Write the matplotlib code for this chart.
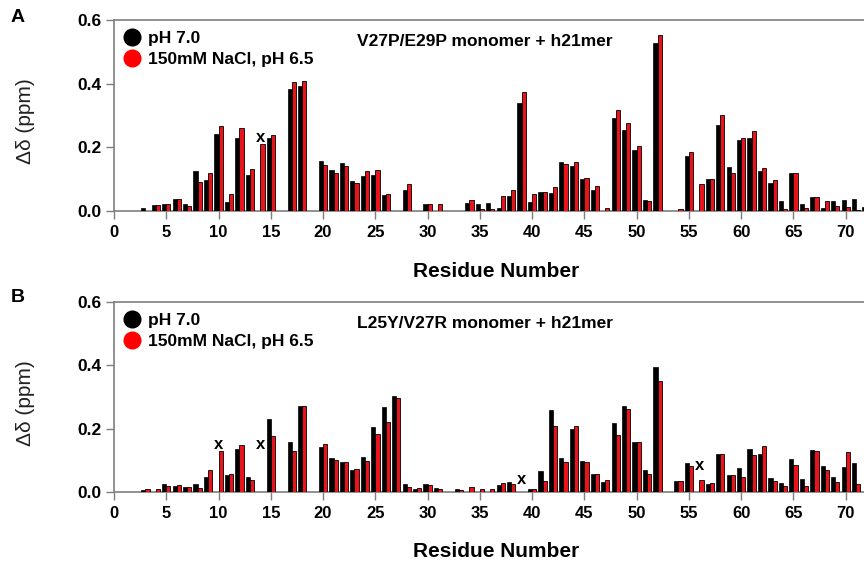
import numpy as np
import matplotlib
matplotlib.use("Agg")
import matplotlib.pyplot as plt
from matplotlib.lines import Line2D

nan = np.nan
residues = list(range(3, 73))

# Panel A: V27P/E29P monomer + h21mer
ph7_A = [0.009, 0.020, 0.023, 0.038, 0.022, 0.125, 0.096, 0.242, 0.028, 0.230,
         0.113, nan, 0.228, nan, 0.383, 0.392, nan, 0.157, 0.129, 0.152,
         0.094, 0.111, 0.113, 0.049, nan, 0.067, nan, 0.023, nan, nan,
         nan, 0.025, 0.022, 0.025, 0.008, 0.047, 0.338, 0.028, 0.060, 0.056,
         0.155, 0.140, 0.102, 0.067, nan, 0.293, 0.254, 0.191, 0.036, 0.527,
         nan, nan, 0.173, nan, 0.101, 0.271, 0.137, 0.223, 0.228, 0.127,
         0.089, 0.031, 0.119, 0.021, 0.044, 0.009, 0.030, 0.033, 0.039, 0.012]
nacl_A = [nan, 0.020, 0.023, 0.037, 0.016, 0.091, 0.118, 0.268, 0.053, 0.262,
          0.131, 0.209, 0.238, nan, 0.406, 0.409, nan, 0.145, 0.119, 0.142,
          0.089, 0.127, 0.130, 0.053, nan, 0.085, nan, 0.023, 0.021, nan,
          nan, 0.035, 0.005, 0.005, 0.047, 0.067, 0.375, 0.053, 0.060, 0.076,
          0.148, 0.155, 0.103, 0.080, 0.008, 0.316, 0.277, 0.203, 0.030, 0.552,
          nan, 0.006, 0.186, 0.086, 0.101, 0.303, 0.120, 0.230, 0.252, 0.134,
          0.096, 0.007, 0.119, 0.008, 0.044, 0.031, 0.016, 0.014, 0.003, nan]

# Panel B: L25Y/V27R monomer + h21mer
ph7_B = [0.007, nan, 0.024, 0.018, 0.016, 0.024, 0.048, nan, 0.054, 0.137,
         0.046, nan, 0.232, nan, 0.158, 0.272, nan, 0.143, 0.108, 0.096,
         0.069, 0.109, 0.206, 0.269, 0.302, 0.025, 0.009, 0.025, 0.013, nan,
         0.008, nan, nan, nan, 0.023, 0.033, nan, 0.008, 0.065, 0.258,
         0.108, 0.200, 0.098, 0.057, 0.032, 0.219, 0.272, 0.157, 0.068, 0.395,
         nan, 0.035, 0.091, nan, 0.025, 0.121, 0.054, 0.075, 0.137, 0.121,
         0.045, 0.027, 0.103, 0.042, 0.133, 0.083, 0.046, 0.079, 0.091, nan]
nacl_B = [0.009, 0.011, 0.018, 0.021, 0.016, 0.013, 0.070, 0.128, 0.057, 0.148,
          0.039, nan, 0.178, nan, 0.129, 0.272, nan, 0.152, 0.102, 0.096,
          0.073, 0.099, 0.184, 0.222, 0.298, 0.017, 0.012, 0.021, 0.008, nan,
          0.007, 0.015, 0.011, 0.008, 0.028, 0.026, nan, 0.008, 0.035, 0.207,
          0.094, 0.208, 0.094, 0.057, 0.038, 0.180, 0.263, 0.157, 0.058, 0.351,
          nan, 0.035, 0.081, 0.039, 0.029, 0.119, 0.054, 0.048, 0.117, 0.144,
          0.035, 0.018, 0.085, 0.019, 0.129, 0.068, 0.031, 0.127, 0.025, nan]

# residues marked "x" (unassigned) and label heights
x_marks_A = [14]
x_heights_A = [0.231]
x_marks_B = [10, 14, 39, 56]
x_heights_B = [0.151, 0.151, 0.039, 0.083]

titles = ["V27P/E29P monomer + h21mer", "L25Y/V27R monomer + h21mer"]
panel_letters = ["A", "B"]
legend_labels = ["pH 7.0", "150mM NaCl, pH 6.5"]
yticks = [0.0, 0.2, 0.4, 0.6]
xticks = list(range(0, 71, 5))

plt.rcParams['font.family'] = ['Liberation Sans', 'DejaVu Sans']

fig = plt.figure(figsize=(8.64, 5.62), dpi=100)
W, H = 864, 562
gray = '#7f7f7f'

def make_axes(top_px, bottom_px):
    left_px, right_px = 114, 864
    return fig.add_axes([left_px / W, 1 - bottom_px / H,
                         (right_px - left_px) / W, (bottom_px - top_px) / H])

axA = make_axes(20, 211)
axB = make_axes(302, 492)

panels = [(axA, ph7_A, nacl_A, x_marks_A, x_heights_A),
          (axB, ph7_B, nacl_B, x_marks_B, x_heights_B)]

bw = 0.4
for i, (ax, blk, red, xm, xh) in enumerate(panels):
    r = np.array(residues, dtype=float)
    b = np.array(blk, dtype=float)
    d = np.array(red, dtype=float)
    mb = ~np.isnan(b)
    md = ~np.isnan(d)
    ax.bar(r[mb] - bw, b[mb], width=bw, align='edge', color='black',
           edgecolor='black', linewidth=0.5, zorder=3)
    ax.bar(r[md], d[md], width=bw, align='edge', color='#e8141b',
           edgecolor='black', linewidth=0.6, zorder=3)
    for xr, yv in zip(xm, xh):
        ax.text(xr, yv, "x", ha='center', va='center', fontsize=12,
                fontweight='bold', color='black')
    ax.set_xlim(0, 71.75)
    ax.set_ylim(0, 0.6)
    ax.set_xticks(xticks)
    ax.set_yticks(yticks)
    ax.set_yticklabels([f"{v:.1f}" for v in yticks])
    for lab in ax.get_xticklabels():
        lab.set_fontweight('bold')
        lab.set_fontsize(12)
        lab.set_color('black')
    for lab in ax.get_yticklabels():
        lab.set_fontweight('bold')
        lab.set_fontsize(12.5)
        lab.set_color('black')
    ax.tick_params(axis='both', direction='out', color=gray, length=6, width=1)
    ax.tick_params(axis='x', pad=4)
    ax.tick_params(axis='y', pad=3)
    for s in ['left', 'top', 'bottom']:
        ax.spines[s].set_color(gray)
        ax.spines[s].set_linewidth(1.2)
    ax.spines['right'].set_visible(False)
    ax.set_xlabel("Residue Number", fontsize=15, fontweight='bold')
    ax.xaxis.set_label_coords(0.51, -0.265)
    ax.set_ylabel("Δδ (ppm)", fontsize=15, color='#222222')
    ax.yaxis.set_label_coords(-0.105, 0.47)
    ax.text(0.495, 0.885, titles[i], transform=ax.transAxes, ha='center',
            va='center', fontsize=12.5, fontweight='bold')
    handles = [Line2D([], [], marker='o', linestyle='', color='black',
                      markersize=12),
               Line2D([], [], marker='o', linestyle='', color='#ff0000',
                      markersize=12)]
    leg = ax.legend(handles, legend_labels, loc='upper left', frameon=False,
                    prop={'weight': 'bold', 'size': 12.5},
                    bbox_to_anchor=(0.003, 0.968), borderaxespad=0.0,
                    handletextpad=0.3, labelspacing=0.33,
                    handlelength=1.2, borderpad=0.3)

fig.text(18 / W, 1 - 17 / H, "A", fontsize=14, fontweight='bold',
         ha='center', va='center')
fig.text(18 / W, 1 - 298 / H, "B", fontsize=14, fontweight='bold',
         ha='center', va='center')

fig.savefig("out.png", dpi=100)
